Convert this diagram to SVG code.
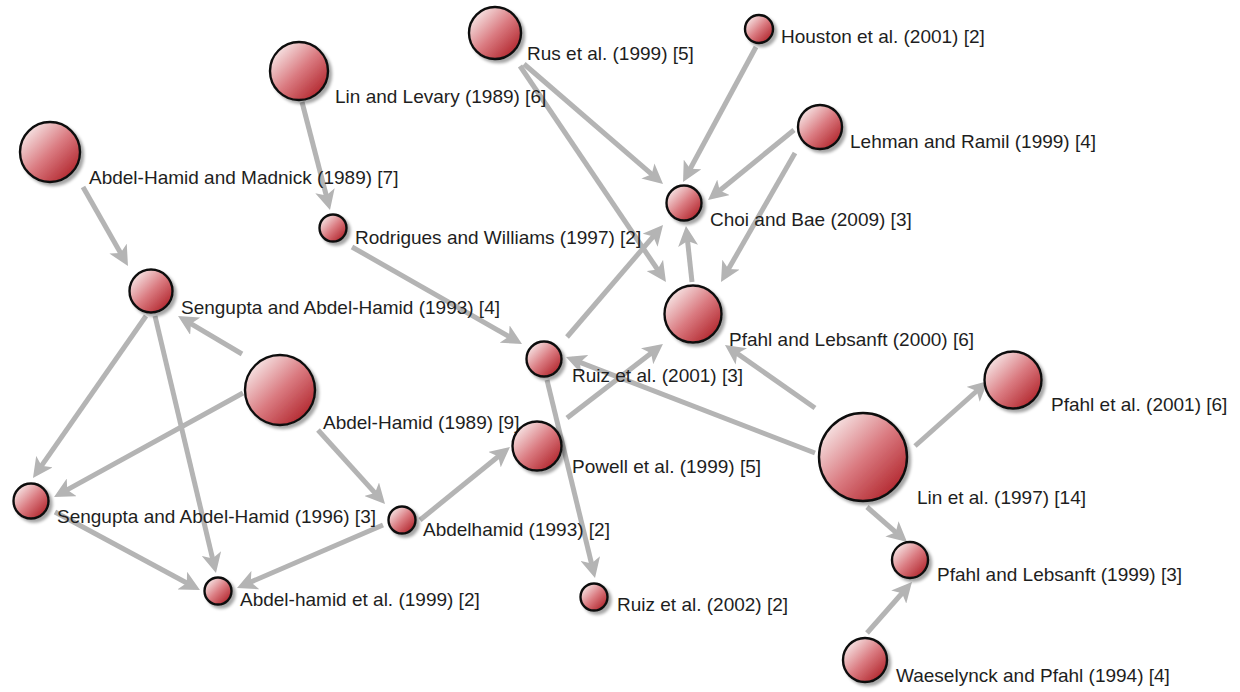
<svg xmlns="http://www.w3.org/2000/svg" width="1240" height="692" viewBox="0 0 1240 692">
<style>
.e{stroke:#b4b4b4;stroke-width:5;fill:none;marker-end:url(#ah)}
.n{fill:url(#g);stroke:#111;stroke-width:2.4;filter:url(#sh)}
.t{font-family:"Liberation Sans",Arial,sans-serif;font-size:19px;fill:#1e1e1e}
</style>
<defs>
<linearGradient id="g" x1="0.12" y1="0.12" x2="0.9" y2="0.9">
<stop offset="0" stop-color="#f7e6e6"/>
<stop offset="0.5" stop-color="#da7a80"/>
<stop offset="1" stop-color="#b0232a"/>
</linearGradient>
<filter id="sh" x="-30%" y="-30%" width="160%" height="160%">
<feDropShadow dx="3" dy="3" stdDeviation="1.6" flood-color="#000" flood-opacity="0.35"/>
</filter>
<marker id="ah" markerUnits="userSpaceOnUse" markerWidth="20" markerHeight="20" viewBox="0 0 20 20" refX="14" refY="10" orient="auto">
<path d="M0,0 L20,10 L0,20 L5,10 z" fill="#b4b4b4"/>
</marker>
</defs>
<rect width="1240" height="692" fill="#fff"/>
<g id="connectors">
<line class="e" x1="524" y1="64" x2="658.5" y2="180.1"/>
<line class="e" x1="520" y1="66" x2="662.6" y2="277"/>
<line class="e" x1="756" y1="47" x2="685.9" y2="176.7"/>
<line class="e" x1="794" y1="130" x2="712.7" y2="196.2"/>
<line class="e" x1="795" y1="153" x2="724" y2="276.8"/>
<line class="e" x1="692" y1="282" x2="686.6" y2="232"/>
<line class="e" x1="302" y1="102" x2="328.5" y2="204.2"/>
<line class="e" x1="83" y1="187" x2="125" y2="260.8"/>
<line class="e" x1="352" y1="247" x2="516.8" y2="341"/>
<line class="e" x1="567" y1="337" x2="659.1" y2="229.6"/>
<line class="e" x1="567" y1="418" x2="658.2" y2="347.7"/>
<line class="e" x1="815" y1="408" x2="729.9" y2="348.4"/>
<line class="e" x1="815" y1="453" x2="571.6" y2="359.2"/>
<line class="e" x1="915" y1="446" x2="983.5" y2="385"/>
<line class="e" x1="867" y1="507" x2="902.5" y2="538.1"/>
<line class="e" x1="867" y1="633" x2="908" y2="586.5"/>
<line class="e" x1="242" y1="354" x2="183.2" y2="319.1"/>
<line class="e" x1="243" y1="393" x2="59.3" y2="494.1"/>
<line class="e" x1="146" y1="316" x2="36.4" y2="473.1"/>
<line class="e" x1="155" y1="316" x2="214.6" y2="567.2"/>
<line class="e" x1="55" y1="512" x2="194.7" y2="587.2"/>
<line class="e" x1="383" y1="525" x2="242.5" y2="585.6"/>
<line class="e" x1="318" y1="430" x2="381" y2="499.6"/>
<line class="e" x1="420" y1="520" x2="505.3" y2="450.8"/>
<line class="e" x1="547" y1="380" x2="593.6" y2="572.2"/>
</g>
<g id="rus1999"><circle class="n" cx="495" cy="33" r="26"/><text class="t" x="527" y="60">Rus et al. (1999) [5]</text></g>
<g id="houston2001"><circle class="n" cx="759" cy="29" r="14"/><text class="t" x="781" y="43">Houston et al. (2001) [2]</text></g>
<g id="linlevary1989"><circle class="n" cx="299" cy="71" r="29"/><text class="t" x="335" y="103">Lin and Levary (1989) [6]</text></g>
<g id="lehman1999"><circle class="n" cx="820" cy="127" r="22"/><text class="t" x="850" y="148">Lehman and Ramil (1999) [4]</text></g>
<g id="madnick1989"><circle class="n" cx="50" cy="152" r="30"/><text class="t" x="89" y="184">Abdel-Hamid and Madnick (1989) [7]</text></g>
<g id="choi2009"><circle class="n" cx="684" cy="203" r="17.5"/><text class="t" x="710" y="226">Choi and Bae (2009) [3]</text></g>
<g id="rodrigues1997"><circle class="n" cx="333" cy="228" r="13.5"/><text class="t" x="355" y="244">Rodrigues and Williams (1997) [2]</text></g>
<g id="sengupta1993"><circle class="n" cx="151" cy="291" r="21.5"/><text class="t" x="181" y="314">Sengupta and Abdel-Hamid (1993) [4]</text></g>
<g id="pfahl2000"><circle class="n" cx="693" cy="314" r="28.5"/><text class="t" x="729" y="346">Pfahl and Lebsanft (2000) [6]</text></g>
<g id="abdelhamid1989"><circle class="n" cx="280" cy="390" r="35"/><text class="t" x="323" y="429">Abdel-Hamid (1989) [9]</text></g>
<g id="ruiz2001"><circle class="n" cx="544" cy="359" r="17.5"/><text class="t" x="572" y="382">Ruiz et al. (2001) [3]</text></g>
<g id="pfahl2001"><circle class="n" cx="1013" cy="380" r="28.5"/><text class="t" x="1051" y="411">Pfahl et al. (2001) [6]</text></g>
<g id="powell1999"><circle class="n" cx="537" cy="446" r="24.5"/><text class="t" x="572" y="473">Powell et al. (1999) [5]</text></g>
<g id="lin1997"><circle class="n" cx="863" cy="457" r="44"/><text class="t" x="917" y="504">Lin et al. (1997) [14]</text></g>
<g id="sengupta1996"><circle class="n" cx="31" cy="501" r="17.5"/><text class="t" x="57" y="523">Sengupta and Abdel-Hamid (1996) [3]</text></g>
<g id="abdelhamid1993"><circle class="n" cx="402" cy="520" r="13.5"/><text class="t" x="423" y="536">Abdelhamid (1993) [2]</text></g>
<g id="abdelhamid1999"><circle class="n" cx="218" cy="591" r="13.5"/><text class="t" x="240" y="606">Abdel-hamid et al. (1999) [2]</text></g>
<g id="ruiz2002"><circle class="n" cx="594" cy="597" r="13.5"/><text class="t" x="617" y="611">Ruiz et al. (2002) [2]</text></g>
<g id="pfahl1999"><circle class="n" cx="910" cy="560" r="18"/><text class="t" x="937" y="581">Pfahl and Lebsanft (1999) [3]</text></g>
<g id="waeselynck1994"><circle class="n" cx="865" cy="660" r="22"/><text class="t" x="896" y="682">Waeselynck and Pfahl (1994) [4]</text></g>
</svg>
